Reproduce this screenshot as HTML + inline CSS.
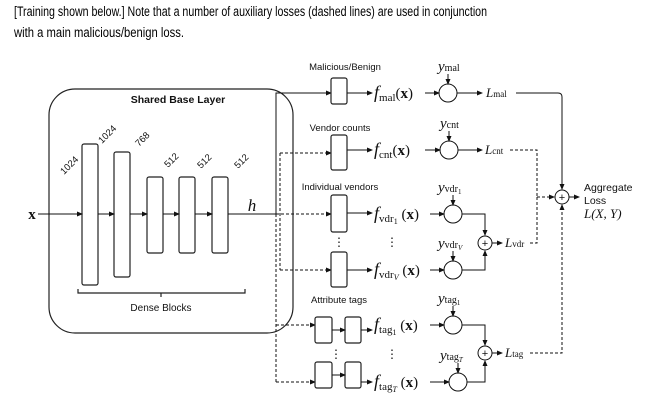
<!DOCTYPE html>
<html><head><meta charset="utf-8"><style>
html,body{margin:0;padding:0;background:#fff;}
svg{display:block}
.s{font-family:"Liberation Sans",sans-serif;fill:#111}
.m{font-family:"Liberation Serif",serif;fill:#111}
</style></head><body>
<svg width="668" height="404" viewBox="0 0 668 404" xmlns="http://www.w3.org/2000/svg">
<defs>
<marker id="a" markerWidth="6" markerHeight="6" refX="5" refY="3" orient="auto" markerUnits="userSpaceOnUse"><path d="M0,0.5 L6,3 L0,5.5z" fill="#111"/></marker>
</defs>
<text x="14" y="16" class="s" font-size="13.5" fill="#000" style="fill:#000" textLength="473" lengthAdjust="spacingAndGlyphs">[Training shown below.] Note that a number of auxiliary losses (dashed lines) are used in conjunction</text>
<text x="14" y="37" class="s" font-size="13.5" style="fill:#000" textLength="170" lengthAdjust="spacingAndGlyphs">with a main malicious/benign loss.</text>

<g stroke="#222" fill="none" stroke-width="1.2">
<rect x="49" y="89" width="244" height="244" rx="26"/>
<rect x="82" y="144" width="16" height="141" rx="2"/>
<rect x="114" y="152" width="16" height="125" rx="2"/>
<rect x="147" y="177" width="16" height="76" rx="2"/>
<rect x="179" y="177" width="16" height="76" rx="2"/>
<rect x="212" y="177" width="16" height="76" rx="2"/>
<path d="M78,289 v4 h83 v4 M161,293 h84 v-4"/>
</g>
<g stroke="#111" stroke-width="1" fill="none">
<line x1="38" y1="214" x2="82" y2="214" marker-end="url(#a)"/>
<line x1="98" y1="214" x2="114" y2="214" marker-end="url(#a)"/>
<line x1="130" y1="214" x2="147" y2="214" marker-end="url(#a)"/>
<line x1="163" y1="214" x2="179" y2="214" marker-end="url(#a)"/>
<line x1="195" y1="214" x2="212" y2="214" marker-end="url(#a)"/>
<line x1="228" y1="214" x2="276" y2="214"/>
<path d="M276,214 V93 H331" marker-end="url(#a)"/>
</g>
<text x="32" y="219" class="m" font-size="15" font-weight="bold" text-anchor="middle">x</text>
<text x="252" y="211" class="m" font-size="17" font-style="italic" text-anchor="middle">h</text>
<text x="178" y="103" class="s" font-size="10.5" font-weight="bold" text-anchor="middle">Shared Base Layer</text>
<text x="161" y="311" class="s" font-size="10" text-anchor="middle">Dense Blocks</text>
<g class="s" font-size="9.5">
<text transform="translate(64,175) rotate(-45)">1024</text>
<text transform="translate(102,144) rotate(-45)">1024</text>
<text transform="translate(139,147) rotate(-45)">768</text>
<text transform="translate(168,168) rotate(-45)">512</text>
<text transform="translate(201,169) rotate(-45)">512</text>
<text transform="translate(238,169) rotate(-45)">512</text>
</g>

<g stroke="#111" stroke-width="1" fill="none" stroke-dasharray="3,2">
<path d="M280,153 V270"/>
<path d="M280,153 H331" marker-end="url(#a)"/>
<path d="M276,214 H331" marker-end="url(#a)"/>
<path d="M280,270 H331" marker-end="url(#a)"/>
<path d="M276,214 V382"/>
<path d="M276,325 H315" marker-end="url(#a)"/>
<path d="M276,382 H315" marker-end="url(#a)"/>
</g>

<g stroke="#222" fill="#fff" stroke-width="1.2">
<rect x="331" y="78" width="16" height="26" rx="2"/>
<rect x="331" y="135" width="16" height="35" rx="2"/>
<rect x="331" y="195" width="16" height="37" rx="2"/>
<rect x="331" y="252" width="16" height="35" rx="2"/>
<rect x="315" y="317" width="17" height="26" rx="2"/>
<rect x="345" y="317" width="16" height="26" rx="2"/>
<rect x="315" y="362" width="17" height="26" rx="2"/>
<rect x="345" y="362" width="16" height="26" rx="2"/>
</g>
<g class="s" font-size="9.5" text-anchor="middle">
<text x="345" y="70">Malicious/Benign</text>
<text x="340" y="131">Vendor counts</text>
<text x="340" y="190">Individual vendors</text>
<text x="339" y="303">Attribute tags</text>
</g>

<g stroke="#111" stroke-width="1" fill="none">
<line x1="347" y1="93" x2="372" y2="93" marker-end="url(#a)"/>
<line x1="347" y1="150" x2="372" y2="150" marker-end="url(#a)"/>
<line x1="347" y1="213" x2="372" y2="213" marker-end="url(#a)"/>
<line x1="347" y1="270" x2="372" y2="270" marker-end="url(#a)"/>
<line x1="332" y1="330" x2="345" y2="330" marker-end="url(#a)"/>
<line x1="361" y1="330" x2="372" y2="330" marker-end="url(#a)"/>
<line x1="332" y1="375" x2="345" y2="375" marker-end="url(#a)"/>
<line x1="361" y1="382" x2="372" y2="382" marker-end="url(#a)"/>
<line x1="425" y1="93" x2="439" y2="93" marker-end="url(#a)"/>
<line x1="425" y1="150" x2="440" y2="150" marker-end="url(#a)"/>
<line x1="430" y1="214" x2="444" y2="214" marker-end="url(#a)"/>
<line x1="430" y1="270" x2="444" y2="270" marker-end="url(#a)"/>
<line x1="430" y1="325" x2="444" y2="325" marker-end="url(#a)"/>
<line x1="430" y1="382" x2="449" y2="382" marker-end="url(#a)"/>
<line x1="448" y1="74" x2="448" y2="84" marker-end="url(#a)"/>
<line x1="449" y1="131" x2="449" y2="141" marker-end="url(#a)"/>
<line x1="453" y1="195" x2="453" y2="205" marker-end="url(#a)"/>
<line x1="453" y1="251" x2="453" y2="261" marker-end="url(#a)"/>
<line x1="453" y1="306" x2="453" y2="316" marker-end="url(#a)"/>
<line x1="458" y1="363" x2="458" y2="373" marker-end="url(#a)"/>
<circle cx="448" cy="93" r="9"/>
<circle cx="449" cy="150" r="9"/>
<circle cx="453" cy="214" r="9"/>
<circle cx="453" cy="270" r="9"/>
<circle cx="453" cy="325" r="9"/>
<circle cx="458" cy="382" r="9"/>
<circle cx="485" cy="243" r="7"/>
<circle cx="485" cy="353" r="7"/>
<circle cx="562" cy="197" r="7"/>
<line x1="457" y1="93" x2="482" y2="93" marker-end="url(#a)"/>
<line x1="458" y1="150" x2="482" y2="150" marker-end="url(#a)"/>
<path d="M462,214 H485 V235" marker-end="url(#a)"/>
<path d="M462,270 H485 V251" marker-end="url(#a)"/>
<path d="M462,325 H485 V345" marker-end="url(#a)"/>
<path d="M467,382 H485 V361" marker-end="url(#a)"/>
<line x1="492" y1="243" x2="502" y2="243" marker-end="url(#a)"/>
<line x1="492" y1="353" x2="502" y2="353" marker-end="url(#a)"/>
<path d="M516,93 H558 Q562,93 562,97 V189" marker-end="url(#a)"/>
<line x1="569" y1="197" x2="579" y2="197" marker-end="url(#a)"/>
</g>
<g stroke="#111" stroke-width="1" fill="none" stroke-dasharray="3,2">
<path d="M510,150 H537 V197"/>
<path d="M530,243 H537 V197"/>
<line x1="537" y1="197" x2="554" y2="197" marker-end="url(#a)"/>
<path d="M530,353 H562 V205" marker-end="url(#a)"/>
</g>
<g class="s" font-size="11" text-anchor="middle">
<text x="485" y="247">+</text><text x="485" y="357">+</text><text x="562" y="201">+</text>
</g>

<g class="m" font-size="15">
<text x="374" y="98"><tspan font-style="italic" font-size="18">f</tspan><tspan font-size="11" dy="3">mal</tspan><tspan dy="-3">(</tspan><tspan font-weight="bold">x</tspan>)</text>
<text x="374" y="155"><tspan font-style="italic" font-size="18">f</tspan><tspan font-size="11" dy="3">cnt</tspan><tspan dy="-3">(</tspan><tspan font-weight="bold">x</tspan>)</text>
<text x="374" y="219"><tspan font-style="italic" font-size="18">f</tspan><tspan font-size="11" dy="3">vdr</tspan><tspan font-size="8" dy="2">1</tspan><tspan dy="-5"> (</tspan><tspan font-weight="bold">x</tspan>)</text>
<text x="374" y="275"><tspan font-style="italic" font-size="18">f</tspan><tspan font-size="11" dy="3">vdr</tspan><tspan font-size="8" dy="2" font-style="italic">V</tspan><tspan dy="-5"> (</tspan><tspan font-weight="bold">x</tspan>)</text>
<text x="374" y="330"><tspan font-style="italic" font-size="18">f</tspan><tspan font-size="11" dy="3">tag</tspan><tspan font-size="8" dy="2">1</tspan><tspan dy="-5"> (</tspan><tspan font-weight="bold">x</tspan>)</text>
<text x="374" y="387"><tspan font-style="italic" font-size="18">f</tspan><tspan font-size="11" dy="3">tag</tspan><tspan font-size="8" dy="2" font-style="italic">T</tspan><tspan dy="-5"> (</tspan><tspan font-weight="bold">x</tspan>)</text>
</g>
<g class="m" font-size="15">
<text x="438" y="71"><tspan font-style="italic">y</tspan><tspan font-size="10">mal</tspan></text>
<text x="440" y="128"><tspan font-style="italic">y</tspan><tspan font-size="10">cnt</tspan></text>
<text x="438" y="192"><tspan font-style="italic">y</tspan><tspan font-size="10">vdr</tspan><tspan font-size="7" dy="2">1</tspan></text>
<text x="438" y="248"><tspan font-style="italic">y</tspan><tspan font-size="10">vdr</tspan><tspan font-size="7" dy="2" font-style="italic">V</tspan></text>
<text x="438" y="303"><tspan font-style="italic">y</tspan><tspan font-size="10">tag</tspan><tspan font-size="7" dy="2">1</tspan></text>
<text x="440" y="360"><tspan font-style="italic">y</tspan><tspan font-size="10">tag</tspan><tspan font-size="7" dy="2" font-style="italic">T</tspan></text>
<text x="486" y="97"><tspan font-style="italic" font-size="13">L</tspan><tspan font-size="9">mal</tspan></text>
<text x="485" y="154"><tspan font-style="italic" font-size="13">L</tspan><tspan font-size="9">cnt</tspan></text>
<text x="505" y="247"><tspan font-style="italic" font-size="13">L</tspan><tspan font-size="9">vdr</tspan></text>
<text x="505" y="357"><tspan font-style="italic" font-size="13">L</tspan><tspan font-size="9">tag</tspan></text>
</g>
<g class="s" font-size="10.5">
<text x="584" y="191">Aggregate</text>
<text x="584" y="204">Loss</text>
</g>
<text x="584" y="218" class="m" font-size="13" font-style="italic">L(X, Y)</text>
<g class="m" font-size="12" text-anchor="middle">
<text x="339" y="246">⋮</text><text x="392" y="246">⋮</text>
<text x="336" y="358">⋮</text><text x="392" y="358">⋮</text>
</g>
</svg>
</body></html>
